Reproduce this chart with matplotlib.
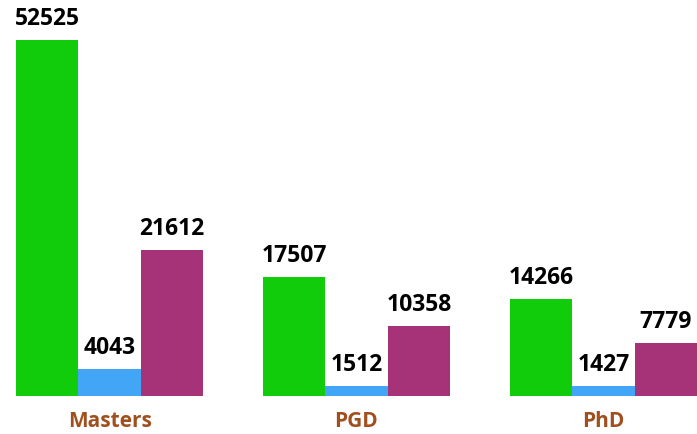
import matplotlib
matplotlib.use("Agg")
import matplotlib.pyplot as plt
import numpy as np
from matplotlib.transforms import blended_transform_factory

categories = ["Masters", "PGD", "PhD"]
series1 = [52525, 17507, 14266]
series2 = [4043, 1512, 1427]
series3 = [21612, 10358, 7779]
colors = ["#11CC0B", "#42A5F5", "#A63378"]

plt.rcParams['font.family'] = ['Open Sans', 'DejaVu Sans']

fig = plt.figure(figsize=(6.97, 4.34), dpi=100)
ax = fig.add_axes([16/697, (434-396)/434, 1 - 16/697, 396/434])

w = 0.253
x = np.arange(len(categories))
for i, (vals, c) in enumerate(zip([series1, series2, series3], colors)):
    pos = x + (i - 1) * w
    bars = ax.bar(pos, vals, width=w, color=c)
    for p, v in zip(pos, vals):
        ax.annotate(str(v), xy=(p, v), xytext=(0, 10.8), textcoords="offset points",
                    ha="center", va="baseline", fontsize=16.5, fontweight="bold", color="black")

ax.set_xlim(-1.5 * w, 2 + 1.5 * w)
ax.set_ylim(0, 52525 * 396 / 356)
ax.axis("off")

trans = blended_transform_factory(ax.transData, ax.transAxes)
for xi, cat in zip(x, categories):
    ax.annotate(cat, xy=(xi, 0), xycoords=trans, xytext=(0, -22.3), textcoords="offset points",
                ha="center", va="baseline", fontsize=15, fontweight="bold", color="#A0501E",
                annotation_clip=False)

fig.savefig("out.png", dpi=100)
